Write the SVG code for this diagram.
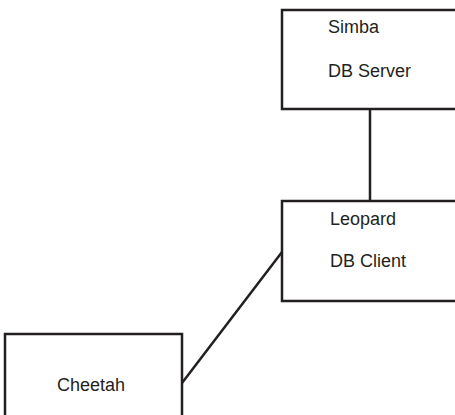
<svg xmlns="http://www.w3.org/2000/svg" width="455" height="415" viewBox="0 0 455 415">
<style>
.box{fill:#fff;stroke:#231f20;stroke-width:2.5}
.lbl{font-family:"Liberation Sans",Arial,sans-serif;font-size:18px;fill:#231f20}
.edge{stroke:#231f20;stroke-width:2.5;fill:none}
</style>
<rect width="455" height="415" fill="#fff"/>
<g id="connectors">
<line class="edge" x1="370" y1="110" x2="370" y2="201"/>
<line class="edge" x1="182" y1="383" x2="282" y2="252"/>
</g>
<g id="simba">
<rect class="box" x="282" y="10" width="180" height="99"/>
<text class="lbl" x="328" y="33">Simba</text>
<text class="lbl" x="328" y="77">DB Server</text>
</g>
<g id="leopard">
<rect class="box" x="282" y="201" width="180" height="100"/>
<text class="lbl" x="330" y="225">Leopard</text>
<text class="lbl" x="330" y="267">DB Client</text>
</g>
<g id="cheetah">
<rect class="box" x="5" y="334" width="177" height="90"/>
<text class="lbl" x="57" y="391">Cheetah</text>
</g>
</svg>
